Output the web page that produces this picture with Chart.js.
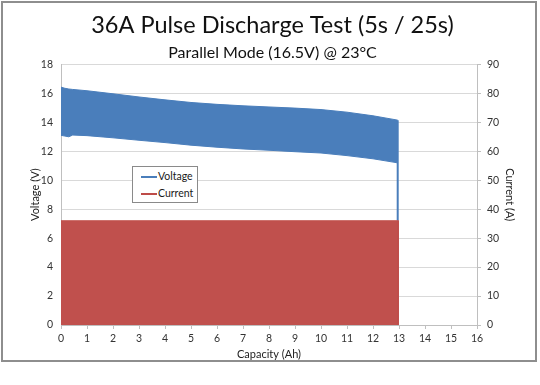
<!DOCTYPE html>
<html>
<head>
<meta charset="utf-8">
<script src="https://cdn.jsdelivr.net/npm/chart.js@4"></script>
<style>
  html, body { margin: 0; padding: 0; background: #fff; }
  #wrap { position: relative; width: 540px; height: 385px; }
  #frame {
    position: absolute; left: 1px; top: 1px; width: 532px; height: 357px;
    border: 2px solid #8e8e8e; pointer-events: none;
  }
  #legend {
    position: absolute; left: 132px; top: 166px; width: 64px; height: 35px;
    border: 1px solid #8a8a8a; background: #fff;
    font: 10.5px Lato, sans-serif; color: #1a1a1a;
  }
  #legend .item { position: absolute; left: 8px; height: 14px; line-height: 14px; }
  #legend .swatch { display: inline-block; width: 16px; height: 2px; vertical-align: middle; margin-right: 1px; }
</style>
</head>
<body>
<div id="wrap">
  <canvas id="chart" width="540" height="385"></canvas>
  <div id="frame"></div>
  <div id="legend">
    <div class="item" style="top:2px"><span class="swatch" style="background:#4a7ebb"></span>Voltage</div>
    <div class="item" style="top:19px"><span class="swatch" style="background:#be4b48"></span>Current</div>
  </div>
</div>
<script>
// Pulse discharge: voltage envelope (top of pulse rest / bottom under load) vs capacity
const capacity = [0, 0.15, 0.3, 0.45, 1, 2, 3, 4, 5, 6, 7, 8, 9, 10, 11, 12, 12.95];
const voltageHigh = [16.43, 16.35, 16.3, 16.27, 16.18, 15.97, 15.75, 15.55, 15.37, 15.24, 15.14, 15.06, 14.98, 14.88, 14.7, 14.45, 14.15];
const voltageLow = [13.1, 13.05, 13.0, 13.12, 13.08, 12.93, 12.76, 12.6, 12.42, 12.28, 12.16, 12.07, 11.97, 11.88, 11.7, 11.48, 11.2];

// end of test: voltage drop after last pulse
const dropCapacity = [12.95, 12.95];
const dropVoltage = [14.15, 7.2];

// 36 A pulses
const currentCapacity = [0, 12.98, 12.98];
const currentValues = [36, 36, 0];

const xTicks = [0, 1, 2, 3, 4, 5, 6, 7, 8, 9, 10, 11, 12, 13, 14, 15, 16];

const toPoints = (xs, ys) => xs.map((x, i) => ({ x: x, y: ys[i] }));

const BLUE = "#4a7ebb";
const RED = "#c0504d";
const TICK_FONT = { family: "Lato", size: 10.5 };
const TITLE_FONT = { family: "Lato", size: 11 };

const ctx = document.getElementById("chart").getContext("2d");

new Chart(ctx, {
  type: "line",
  data: {
    datasets: [
      {
        label: "Current",
        data: toPoints(currentCapacity, currentValues),
        yAxisID: "y1",
        borderColor: RED,
        backgroundColor: RED,
        borderWidth: 1,
        pointRadius: 0,
        fill: "origin",
      },
      {
        label: "Voltage",
        data: toPoints(capacity, voltageHigh),
        yAxisID: "y",
        borderColor: BLUE,
        backgroundColor: BLUE,
        borderWidth: 1,
        pointRadius: 0,
        fill: "+1",
      },
      {
        label: "Voltage low",
        data: toPoints(capacity, voltageLow),
        yAxisID: "y",
        borderColor: BLUE,
        borderWidth: 1,
        pointRadius: 0,
        fill: false,
      },
      {
        label: "Voltage drop",
        data: toPoints(dropCapacity, dropVoltage),
        yAxisID: "y",
        borderColor: BLUE,
        borderWidth: 2,
        pointRadius: 0,
        fill: false,
      },
    ],
  },
  options: {
    responsive: false,
    animation: false,
    layout: { padding: { left: 29, right: 24, top: 0, bottom: 24 } },
    plugins: {
      legend: { display: false },
      tooltip: { enabled: false },
      title: {
        display: true,
        text: "36A Pulse Discharge Test (5s / 25s)",
        color: "#111",
        font: { family: "Lato", size: 23.5, weight: "normal" },
        padding: { top: 11, bottom: 0 },
      },
      subtitle: {
        display: true,
        text: "Parallel Mode (16.5V) @ 23°C",
        color: "#111",
        font: { family: "Lato", size: 16, weight: "normal" },
        padding: { top: 4, bottom: 2 },
      },
    },
    scales: {
      x: {
        type: "linear",
        min: 0,
        max: 16,
        afterBuildTicks: (scale) => {
          scale.ticks = xTicks.map((v) => ({ value: v }));
        },
        afterFit: (scale) => {
          scale.height = 36;
        },
        grid: { drawOnChartArea: false, color: "#bfbfbf", tickLength: 4 },
        border: { color: "#bfbfbf" },
        ticks: { color: "#333", font: TICK_FONT, padding: 3, maxRotation: 0 },
        title: { display: true, text: "Capacity (Ah)", color: "#222", font: TITLE_FONT, padding: 0 },
      },
      y: {
        position: "left",
        min: 0,
        max: 18,
        ticks: { stepSize: 2, color: "#333", font: TICK_FONT, padding: 8 },
        afterFit: (scale) => {
          scale.width = 32;
        },
        grid: { color: "#d9d9d9", drawTicks: false },
        border: { color: "#bfbfbf" },
        title: { display: true, text: "Voltage (V)", color: "#222", font: TITLE_FONT, padding: 0 },
      },
      y1: {
        position: "right",
        min: 0,
        max: 90,
        ticks: { stepSize: 10, color: "#333", font: TICK_FONT, padding: 6 },
        afterFit: (scale) => {
          scale.width = 39;
        },
        grid: { drawOnChartArea: false, color: "#bfbfbf", tickLength: 4 },
        border: { color: "#bfbfbf" },
        title: { display: true, text: "Current (A)", color: "#222", font: TITLE_FONT, padding: 0 },
      },
    },
  },
});
</script>
</body>
</html>
